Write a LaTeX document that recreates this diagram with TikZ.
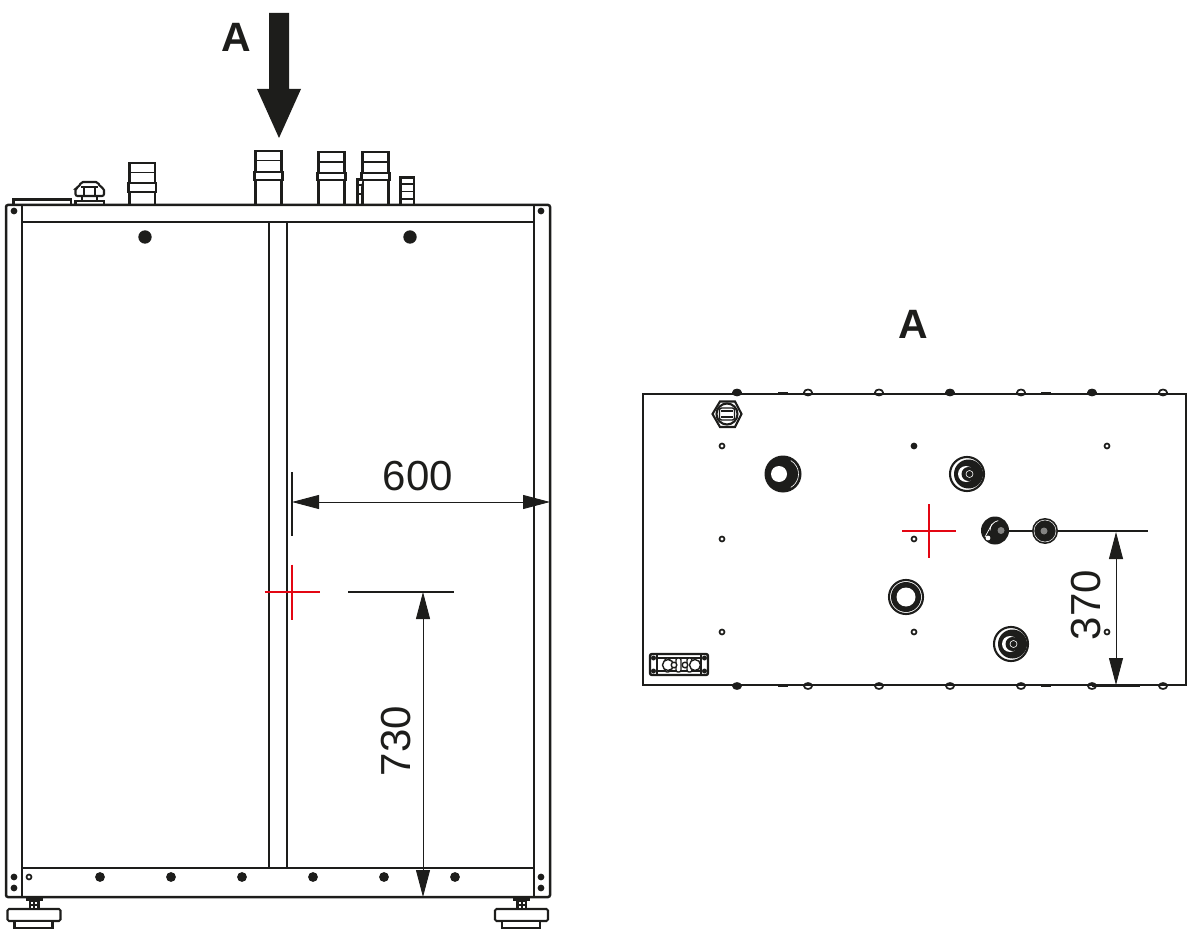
\documentclass[tikz,border=0pt]{standalone}
\usepackage{fontspec}
\setmainfont{Liberation Sans}
\usepackage{tikz}
\usetikzlibrary{arrows.meta}
\definecolor{ink}{HTML}{1D1D1B}
\definecolor{markred}{HTML}{E30613}
\tikzset{
	frameline/.style={draw=ink, line width=2.1pt},
	thinline/.style={draw=ink, line width=1.4pt},
	dimline/.style={draw=ink, line width=0.9pt, {Triangle[length=27pt,width=14pt]}-{Triangle[length=27pt,width=14pt]}},
	refline/.style={draw=ink, line width=1.8pt},
	crossline/.style={draw=markred, line width=2.4pt},
	dimtext/.style={text=ink, font=\fontsize{42}{42}\selectfont, inner sep=0pt},
	viewtext/.style={text=ink, font=\bfseries\fontsize{41}{41}\selectfont, inner sep=0pt}
}
\def\hole(#1,#2){\draw[thinline, fill=white, line width=1.7pt] (#1,#2) circle (2.5);}
\def\blackhole(#1,#2){\draw[fill=ink, draw=none] (#1,#2) circle (3.4);}
\def\bump(#1,#2)[#3]{\draw[thinline, line width=1.7pt, fill=#3] (#1,#2) ellipse (4 and 3);}
\def\cross(#1,#2)(#3){\draw[crossline] (#1-#3,#2) -- (#1+#3,#2); \draw[crossline] (#1,#2-#3) -- (#1,#2+#3);}
% pipe stub seen from the front: left, right, top, collar top, collar bottom
\def\stub(#1,#2,#3,#4,#5){
	\draw[frameline, fill=white] (#1,205) -- (#1,#3) -- (#2,#3) -- (#2,205);
	\draw[thinline] (#1,#3+9.5) -- (#2,#3+9.5);
	\draw[frameline, fill=white] (#1-1,#4) rectangle (#2+1,#5);
}
% pipe port seen from above
\def\port(#1,#2){
	\draw[frameline] (#1,#2) circle (17);
	\draw[fill=ink, draw=none] (#1+1.5,#2) circle (14.5);
	\draw[fill=white, draw=none] (#1-1,#2) circle (8);
	\draw[fill=ink, draw=none] (#1+1.5,#2) circle (7);
	\draw[white, line width=0.6pt] (#1+2.5,#2) circle (3.5);
}
\def\foot(#1){
	\draw[frameline, fill=white, rounded corners=1.5pt] (#1,909) rectangle (#1+53,921);
	\draw[frameline, fill=white] (#1+7,921) rectangle (#1+45,928);
	\draw[fill=ink, draw=none] (#1+21,899) rectangle (#1+32,909);
	\draw[fill=ink, draw=none] (#1+18,898) rectangle (#1+35,901);
	\draw[fill=white, draw=none] (#1+23.5,902) rectangle (#1+25.5,904);
	\draw[fill=white, draw=none] (#1+27.5,902) rectangle (#1+29.5,904);
	\draw[fill=white, draw=none] (#1+23.5,906) rectangle (#1+25.5,908);
	\draw[fill=white, draw=none] (#1+27.5,906) rectangle (#1+29.5,908);
}

\begin{document}
\begin{tikzpicture}[x=1pt, y=-1pt]
	\useasboundingbox (0,0) rectangle (1192,933);

	%%%%% FRONT VIEW %%%%%

	\draw[fill=ink, draw=none] (269,13) -- (289,13) -- (289,89) -- (301,89) -- (279,138) -- (257,89) -- (269,89) -- cycle;
	\node[viewtext] (arrowname) at (236,37) {A};

	% stubs and gland on the roof
	\stub(129.5,155,163,183,192)
	\stub(255.5,281.5,151,172,180)
	\stub(318.5,344.5,152,173,180)
	\stub(362.5,388.5,152,173,180)
	\draw[frameline] (129.5,163) -- (155,163);
	\draw[frameline, line width=2.8pt] (318.5,162) -- (344.5,162);
	\draw[frameline, line width=2.8pt] (362.5,162) -- (388.5,162);
	\draw[frameline, fill=white] (357.5,205) -- (357.5,179.5) -- (362.5,179.5);
	\draw[thinline] (357.5,185) -- (362.5,185);
	\draw[thinline] (357.5,194) -- (362.5,194);
	\draw[frameline, fill=white] (400.5,205) -- (400.5,177.5) -- (414,177.5) -- (414,205);
	\draw[frameline, line width=2.8pt] (400.5,184) -- (414,184);
	\draw[thinline] (399.5,191.5) rectangle (414,199);
	\draw[frameline, line width=2.4pt, fill=white] (13.5,205) -- (13.5,199.5) -- (71,199.5) -- (71,205);
	\draw[frameline, fill=white, rounded corners=2pt] (75.5,196) -- (75.5,188) -- (79,187) -- (81,182) -- (98,182) -- (100,187) -- (104,188) -- (104,196) -- cycle;
	\draw[thinline] (84,188) -- (84,196);
	\draw[thinline] (95,188) -- (95,196);
	\draw[thinline] (81,187) -- (98,187);
	\draw[thinline] (82,196) -- (82,201);
	\draw[thinline] (97,196) -- (97,201);
	\draw[frameline, fill=white] (75.5,205) rectangle (104,201);

	% frame
	\draw[frameline, line width=2.5pt, rounded corners=2pt] (6,205) rectangle (550,897);
	\draw[frameline] (22,205) -- (22,897);
	\draw[frameline] (534,205) -- (534,897);
	\draw[frameline] (21,222) -- (535,222);
	\draw[frameline] (21,868) -- (535,868);
	\draw[frameline] (269,222) -- (269,868);
	\draw[frameline] (287,222) -- (287,868);

	\draw[fill=ink, draw=none] (145,237) circle (6.7);
	\draw[fill=ink, draw=none] (410,237) circle (6.7);
	\blackhole(14,211)
	\blackhole(541,211)
	\blackhole(14,877)
	\blackhole(14,888)
	\blackhole(541,877)
	\blackhole(541,888)
	\hole(29,877)
	\draw[fill=ink, draw=none] (100,877) circle (4.9);
	\draw[fill=ink, draw=none] (171,877) circle (4.9);
	\draw[fill=ink, draw=none] (242,877) circle (4.9);
	\draw[fill=ink, draw=none] (313,877) circle (4.9);
	\draw[fill=ink, draw=none] (384,877) circle (4.9);
	\draw[fill=ink, draw=none] (455,877) circle (4.9);

	\foot(7.5)
	\foot(495)

	% dimensions
	\coordinate (widthtop) at (292,472);
	\coordinate (widthbot) at (292,536);
	\coordinate (widthl) at (292,502);
	\coordinate (widthr) at (550,502);
	\draw[refline] (widthtop) -- (widthbot);
	\draw[dimline] (widthl) -- (widthr);
	\node[dimtext] (widthval) at (418,476) {600};

	\cross(292,592)(27.5)
	\coordinate (heightl) at (348,592);
	\coordinate (heightr) at (454,592);
	\coordinate (heighttop) at (423,592);
	\coordinate (heightbot) at (423,897);
	\draw[refline] (heightl) -- (heightr);
	\draw[dimline] (heighttop) -- (heightbot);
	\node[dimtext, rotate=90] (heightval) at (396,741) {730};

	%%%%% VIEW A %%%%%

	\node[viewtext] (viewname) at (913,324) {A};

	\bump(737,392.5)[ink]
	\bump(808,392.5)[white]
	\bump(879,392.5)[white]
	\bump(950,392.5)[ink]
	\bump(1021,392.5)[white]
	\bump(1092,392.5)[ink]
	\bump(1163,392.5)[white]
	\bump(737,686)[ink]
	\bump(808,686)[white]
	\bump(879,686)[white]
	\bump(950,686)[white]
	\bump(1021,686)[white]
	\bump(1092,686)[white]
	\bump(1163,686)[white]
	\draw[frameline] (643,394) rectangle (1186,685);
	\draw[frameline, line width=2.8pt] (643,409) -- (643,394) -- (659,394);
	\draw[frameline, line width=2.8pt] (1171,394) -- (1186,394) -- (1186,409);
	\draw[frameline, line width=2.8pt] (643,670) -- (643,685) -- (659,685);
	\draw[frameline, line width=2.8pt] (1171,685) -- (1186,685) -- (1186,670);
	\draw[frameline, line width=2.8pt] (643,427) -- (643,436);
	\draw[frameline, line width=2.8pt] (1186,535) -- (1186,544);
	\draw[thinline] (778,392.5) -- (788,392.5);
	\draw[thinline] (1041,392.5) -- (1051,392.5);
	\draw[thinline] (778,686) -- (788,686);
	\draw[thinline] (1041,686) -- (1051,686);
	\draw[frameline, line width=2.6pt] (1092,686) -- (1140,686);

	\hole(722,446)
	\blackhole(914,446)
	\hole(1107,446)
	\hole(722,539)
	\hole(914,539)
	\hole(722,632)
	\hole(914,632)
	\hole(1107,632)

	% gland
	\draw[frameline, fill=white] (712.5,414) -- (720,401.5) -- (735,401.5) -- (741.5,414) -- (735,427) -- (720,427) -- cycle;
	\draw[frameline] (727,414) circle (10.5);
	\draw[thinline, rounded corners=2pt] (719.5,408) rectangle (734.5,420);
	\draw[thinline] (721,411) -- (733,411);
	\draw[thinline] (721,417) -- (733,417);

	% ports
	\draw[fill=ink, draw=none] (783,474) circle (18.5);
	\draw[white, line width=0.6pt] (790.75,487.4) arc (60:-60:15.5);
	\draw[fill=white, draw=none] (779,474) circle (8);
	\port(967,474)
	\port(1011,644)

	\draw[frameline] (906,597) circle (17);
	\draw[fill=ink, draw=none] (906,597) circle (15);
	\draw[fill=white, draw=none] (906,597) circle (9.5);

	\cross(929,531)(27)
	\coordinate (depthl) at (995,531);
	\coordinate (depthr) at (1148,531);
	\coordinate (depthtop) at (1116,532);
	\coordinate (depthbot) at (1116,685);
	\draw[refline] (depthl) -- (depthr);

	\draw[fill=ink, draw=none] (995,530.5) circle (14);
	\draw[white, line width=0.7pt] (985,537) -- (992,524);
	\draw[fill=white, draw=none] (988,538) circle (2.4);
	\draw[white, line width=0.7pt] (990,530.5) arc (180:260:10);
	\draw[fill=ink!55, draw=none] (1001,530.5) circle (3.5);
	\draw[fill=ink, draw=none] (1045,531) circle (13);
	\draw[white, line width=0.5pt] (1045,531) circle (11);
	\draw[fill=ink!55, draw=none] (1044,531) circle (3.5);

	\draw[dimline] (depthtop) -- (depthbot);
	\node[dimtext, rotate=90] (depthval) at (1086,605) {370};

	% terminal block
	\draw[frameline, line width=2.4pt, fill=white, rounded corners=2pt] (650,654) rectangle (708,675);
	\draw[thinline] (657,654) -- (657,675);
	\draw[thinline] (701,654) -- (701,675);
	\draw[thinline] (657,658) -- (701,658);
	\draw[thinline] (657,671) -- (701,671);
	\draw[thinline, fill=white, rounded corners=2pt] (665,658) rectangle (670,672);
	\draw[thinline, fill=white, rounded corners=2pt] (676,658) rectangle (681,672);
	\draw[thinline, fill=white, rounded corners=2pt] (687,658) rectangle (692,672);
	\draw[thinline, fill=white] (668,665) circle (5.5);
	\draw[thinline, fill=white] (695,665) circle (5.5);
	\draw[thinline, fill=white] (674,665) circle (2.8);
	\draw[thinline, fill=white] (685,665) circle (2.8);
	\draw[fill=ink, draw=none] (653.5,658) circle (2.5);
	\draw[fill=ink, draw=none] (653.5,671) circle (2.5);
	\draw[fill=ink, draw=none] (704.5,658) circle (2.5);
	\draw[fill=ink, draw=none] (704.5,671) circle (2.5);

	%%%%% END %%%%%
\end{tikzpicture}
\end{document}
